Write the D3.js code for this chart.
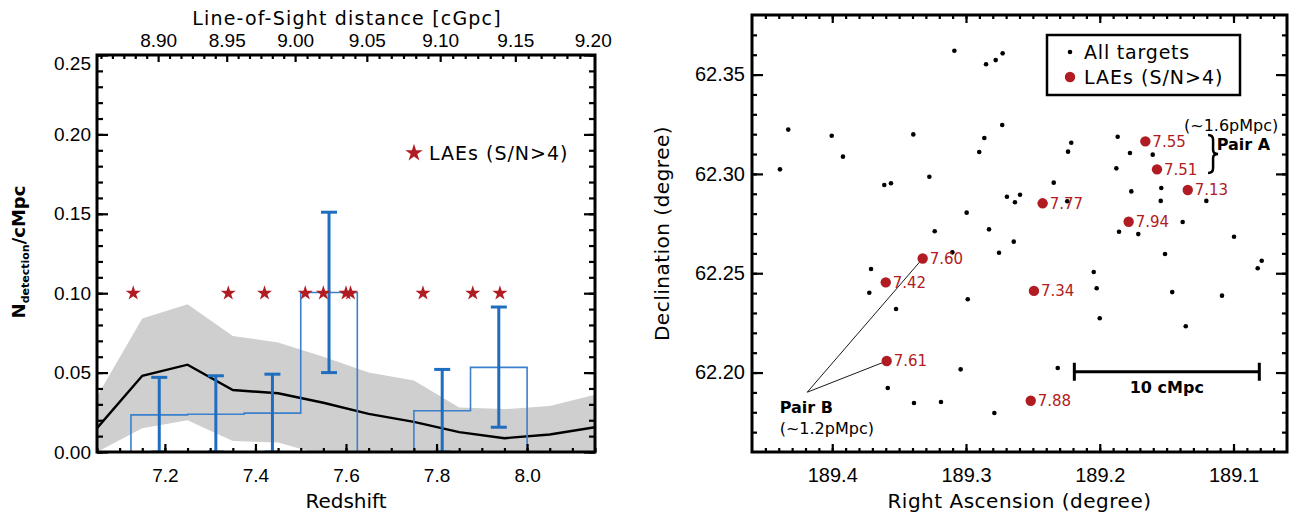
<!DOCTYPE html>
<html>
<head>
<meta charset="utf-8">
<script src="https://cdn.jsdelivr.net/npm/d3@7"></script>
<style>
  body { margin: 0; background: #fff; }
  svg { display: block; font-family: "DejaVu Sans", sans-serif; }
</style>
</head>
<body>
<div id="chart"></div>
<script>
// ---- left panel : number density vs redshift ----
const zGrid     = [7.05, 7.15, 7.25, 7.35, 7.45, 7.55, 7.65, 7.75, 7.85, 7.95, 8.05, 8.15];
const simUpper  = [0.035, 0.084, 0.093, 0.073, 0.069, 0.060, 0.050, 0.045, 0.028, 0.027, 0.029, 0.036];
const simMedian = [0.015, 0.048, 0.055, 0.039, 0.037, 0.031, 0.024, 0.019, 0.0125, 0.0087, 0.011, 0.0156];
const simLower  = [0.000, 0.015, 0.020, 0.007, 0.006, -0.002, 0, 0, 0, 0, 0, 0];

const binEdges   = [7.125, 7.25, 7.375, 7.5, 7.625, 7.75, 7.875, 8.0];
const binDensity = [0.0234, 0.0238, 0.0245, 0.1004, 0.0, 0.0260, 0.0533];
const errLo      = [0, 0, 0, 0.050, null, 0, 0.0156];
const errHi      = [0.047, 0.048, 0.049, 0.151, null, 0.052, 0.0913];
const laeStarLevel = 0.10;

const losTickLabels = ["8.90", "8.95", "9.00", "9.05", "9.10", "9.15", "9.20"];
const losTickZ      = [7.185, 7.3365, 7.4876, 7.646, 7.808, 7.974, 8.145];

// ---- right panel : sky positions ----
const targetRA  = [189.3087, 189.4329, 189.4004, 189.3920, 189.4391, 189.3394, 189.3274, 189.3611, 189.3561, 189.2995,
                   189.3234, 189.3102, 189.2850, 189.2778, 189.2726, 189.2729, 189.2863, 189.2901, 189.2213, 189.2237,
                   189.2344, 189.2694, 189.2596, 189.2634, 189.2243, 189.2828, 189.2643, 189.2753, 189.1866, 189.1774,
                   189.1604, 189.1876, 189.1764, 189.1540, 189.1544, 189.1203, 189.1856, 189.1712, 189.1380, 189.0996,
                   189.1512, 189.0789, 189.0819, 189.3710, 189.3723, 189.3523, 189.2987, 189.3040, 189.3585, 189.3389,
                   189.3187, 189.2045, 189.2023, 189.1458, 189.1086, 189.2000, 189.1357, 189.2314, 189.2788];
const targetDec = [62.3620, 62.3223, 62.3192, 62.3087, 62.3023, 62.3199, 62.2986, 62.2944, 62.2953, 62.2805,
                   62.2711, 62.2605, 62.3552, 62.3573, 62.3607, 62.3246, 62.3181, 62.3110, 62.3157, 62.3112,
                   62.2956, 62.2885, 62.2895, 62.2857, 62.2862, 62.2721, 62.2659, 62.2603, 62.3187, 62.3105,
                   62.3097, 62.3028, 62.2912, 62.2929, 62.2864, 62.2864, 62.2709, 62.2697, 62.2758, 62.2684,
                   62.2597, 62.2563, 62.2525, 62.2521, 62.2402, 62.2320, 62.2369, 62.2016, 62.1922, 62.1847,
                   62.1852, 62.2506, 62.2424, 62.2405, 62.2387, 62.2273, 62.2233, 62.2023, 62.1796];

const laeZ   = [7.13, 7.34, 7.42, 7.51, 7.55, 7.60, 7.61, 7.77, 7.88, 7.94];
const laeRA  = [189.1342, 189.2492, 189.3600, 189.1572, 189.1659, 189.3324, 189.3593, 189.2427, 189.2516, 189.1784];
const laeDec = [62.2919, 62.2411, 62.2454, 62.3023, 62.3164, 62.2574, 62.2058, 62.2852, 62.1858, 62.2759];

const red = "#b01c22";
const svg = d3.select("#chart").append("svg").attr("width", 1299).attr("height", 516);

// tick helper: inward ticks, no domain line
function drawAxis(gen, tx, ty, size, fmt, pad, fs) {
    const g = svg.append("g")
        .attr("transform", `translate(${tx}, ${ty})`)
        .call(gen.tickSize(-size).tickPadding(pad || 6).tickFormat(fmt));
    g.select(".domain").remove();
    g.selectAll(".tick line").attr("stroke", "#000").attr("stroke-width", 2.2);
    g.selectAll(".tick text").attr("fill", "#000").style("font-size", (fs || 19) + "px");
    return g;
}
const noLabel = () => "";
const rng = (a, b, s) => d3.range(Math.round(a / s), Math.round(b / s) + 1).map(k => +(k * s).toFixed(4));

/************ LEFT PANEL ************/
const L = { left: 97, right: 595, top: 55, bottom: 452 };
const xL = d3.scaleLinear().domain([7.05, 8.15]).range([L.left, L.right]);
const yL = d3.scaleLinear().domain([0, 0.25]).range([L.bottom, L.top]);

svg.append("defs").append("clipPath").attr("id", "clipL")
    .append("rect").attr("x", L.left).attr("y", L.top)
    .attr("width", L.right - L.left).attr("height", L.bottom - L.top);

const gL = svg.append("g").attr("clip-path", "url(#clipL)");

// gray band
gL.append("path")
    .datum(zGrid.map((z, i) => ({ z: z, lo: simLower[i], hi: simUpper[i] })))
    .attr("fill", "#cfcfcf")
    .attr("d", d3.area().x(d => xL(d.z)).y0(d => yL(d.lo)).y1(d => yL(d.hi)));

// median line
gL.append("path")
    .datum(zGrid.map((z, i) => ({ z: z, v: simMedian[i] })))
    .attr("fill", "none").attr("stroke", "#000").attr("stroke-width", 2.4)
    .attr("d", d3.line().x(d => xL(d.z)).y(d => yL(d.v)));

// histogram steps
const steps = [[binEdges[0], 0]];
binDensity.forEach((v, i) => { steps.push([binEdges[i], v]); steps.push([binEdges[i + 1], v]); });
steps.push([binEdges[binEdges.length - 1], 0]);
gL.append("path")
    .datum(steps)
    .attr("fill", "none").attr("stroke", "#3a80cc").attr("stroke-width", 1.6)
    .attr("d", d3.line().x(d => xL(d[0])).y(d => yL(d[1])));

// error bars
const errData = binDensity.map((v, i) => ({ z: (binEdges[i] + binEdges[i + 1]) / 2, lo: errLo[i], hi: errHi[i] }))
    .filter(d => d.lo !== null);
const eb = gL.selectAll("g.err").data(errData).join("g").attr("class", "err")
    .attr("stroke", "#1f6dbf").attr("stroke-width", 3);
eb.append("line").attr("x1", d => xL(d.z)).attr("x2", d => xL(d.z))
    .attr("y1", d => yL(d.lo)).attr("y2", d => yL(d.hi));
eb.append("line").attr("x1", d => xL(d.z) - 8).attr("x2", d => xL(d.z) + 8)
    .attr("y1", d => yL(d.hi)).attr("y2", d => yL(d.hi));
eb.append("line").attr("x1", d => xL(d.z) - 8).attr("x2", d => xL(d.z) + 8)
    .attr("y1", d => yL(d.lo)).attr("y2", d => yL(d.lo));

// LAE stars
const star = d3.symbol().type(d3.symbolStar);
gL.selectAll("path.star").data(laeZ).join("path").attr("class", "star")
    .attr("transform", d => `translate(${xL(d)}, ${yL(laeStarLevel)})`)
    .attr("d", star.size(70)()).attr("fill", red);

// legend
svg.append("path").attr("transform", "translate(414, 153)").attr("d", star.size(95)()).attr("fill", red);
svg.append("text").attr("x", 429).attr("y", 153).attr("dy", "0.35em")
    .style("font-size", "19px").style("letter-spacing", "1px").text("LAEs (S/N>4)");

// axes
drawAxis(d3.axisBottom(xL).tickValues([7.2, 7.4, 7.6, 7.8, 8.0]), 0, L.bottom, 8, d3.format(".1f"), 17);
drawAxis(d3.axisBottom(xL).tickValues(rng(7.05, 8.15, 0.05)), 0, L.bottom, 4, noLabel);
const yTicks = drawAxis(d3.axisLeft(yL).tickValues([0, 0.05, 0.10, 0.15, 0.20, 0.25]), L.left, 0, 11, d3.format(".2f"), 6);
yTicks.selectAll(".tick").filter(d => d === 0.25).select("text").attr("y", 8);
drawAxis(d3.axisLeft(yL).tickValues(rng(0, 0.25, 0.01)), L.left, 0, 6, noLabel);
drawAxis(d3.axisRight(yL).tickValues([0, 0.05, 0.10, 0.15, 0.20, 0.25]), L.right, 0, 11, noLabel);
drawAxis(d3.axisRight(yL).tickValues(rng(0, 0.25, 0.01)), L.right, 0, 6, noLabel);

// top line-of-sight axis: six minor steps per labelled interval
const losMinor = [];
for (let i = 0; i < losTickZ.length - 1; i++) {
    const step = (losTickZ[i + 1] - losTickZ[i]) / 6;
    for (let k = 1; k < 6; k++) losMinor.push(losTickZ[i] + k * step);
    if (i === 0) for (let z = losTickZ[0] - step; z > 7.05; z -= step) losMinor.push(z);
}
drawAxis(d3.axisTop(xL).tickValues(losTickZ.slice(0, -1)), 0, L.top, 7, noLabel);
drawAxis(d3.axisTop(xL).tickValues(losMinor), 0, L.top, 4, noLabel);
drawAxis(d3.axisTop(xL).tickValues(losTickZ).tickSize(0), 0, L.top, 0, (d, i) => losTickLabels[i], 8)
    .selectAll(".tick line").remove();

svg.append("rect").attr("x", L.left).attr("y", L.top)
    .attr("width", L.right - L.left).attr("height", L.bottom - L.top)
    .attr("fill", "none").attr("stroke", "#000").attr("stroke-width", 3);

svg.append("text").attr("x", (L.left + L.right) / 2).attr("y", 508).attr("text-anchor", "middle")
    .style("font-size", "20px").text("Redshift");
svg.append("text").attr("x", 347).attr("y", 25).attr("text-anchor", "middle")
    .style("font-size", "19px").style("letter-spacing", "1.2px").text("Line-of-Sight distance [cGpc]");

const yLab = svg.append("text").attr("transform", "translate(25, 252) rotate(-90)")
    .attr("text-anchor", "middle").style("font-weight", "bold").style("font-size", "18px");
yLab.append("tspan").text("N");
yLab.append("tspan").attr("dy", 4).style("font-size", "11px").text("detection");
yLab.append("tspan").attr("dy", -4).text("/cMpc");

/************ RIGHT PANEL ************/
const R = { left: 752, right: 1287, top: 15, bottom: 452 };
const xR = d3.scaleLinear().domain([189.46, 189.06]).range([R.left, R.right]);
const yR = d3.scaleLinear().domain([62.16, 62.38]).range([R.bottom, R.top]);

// Pair B connector lines (under the dots)
const pairBAnchor = [189.4187, 62.1901];
[5, 6].forEach(i => {
    svg.append("line")
        .attr("x1", xR(pairBAnchor[0])).attr("y1", yR(pairBAnchor[1]))
        .attr("x2", xR(laeRA[i])).attr("y2", yR(laeDec[i]))
        .attr("stroke", "#000").attr("stroke-width", 0.9);
});

// all targets
svg.append("g").selectAll("circle").data(targetRA).join("circle")
    .attr("cx", d => xR(d)).attr("cy", (d, i) => yR(targetDec[i]))
    .attr("r", 2.3).attr("fill", "#000");

// LAEs
svg.append("g").selectAll("circle").data(laeZ).join("circle")
    .attr("cx", (d, i) => xR(laeRA[i])).attr("cy", (d, i) => yR(laeDec[i]))
    .attr("r", 5.2).attr("fill", red);
svg.append("g").selectAll("text").data(laeZ).join("text")
    .attr("x", (d, i) => xR(laeRA[i]) + 7).attr("y", (d, i) => yR(laeDec[i]))
    .attr("dy", "0.36em").attr("fill", red).style("font-size", "15px")
    .text(d => d3.format(".2f")(d));

// Pair B labels
svg.append("text").attr("x", xR(189.4393)).attr("y", yR(62.1827)).attr("dy", "0.35em")
    .style("font-size", "16px").style("font-weight", "bold").text("Pair B");
svg.append("text").attr("x", xR(189.4393)).attr("y", yR(62.1721)).attr("dy", "0.35em")
    .style("font-size", "16px").text("(~1.2pMpc)");

// Pair A brace and labels
const bx = xR(189.119), by1 = yR(62.3196), by2 = yR(62.3004), bm = (by1 + by2) / 2;
svg.append("path")
    .attr("d", `M${bx},${by1} Q${bx + 5},${by1} ${bx + 5},${by1 + 5} L${bx + 5},${bm - 4} Q${bx + 5},${bm} ${bx + 10},${bm}` +
               ` Q${bx + 5},${bm} ${bx + 5},${bm + 4} L${bx + 5},${by2 - 5} Q${bx + 5},${by2} ${bx},${by2}`)
    .attr("fill", "none").attr("stroke", "#000").attr("stroke-width", 2.5);
svg.append("text").attr("x", xR(189.1126)).attr("y", yR(62.315)).attr("dy", "0.35em")
    .style("font-size", "16px").style("font-weight", "bold").text("Pair A");
svg.append("text").attr("x", xR(189.137)).attr("y", yR(62.3246)).attr("dy", "0.35em")
    .style("font-size", "16px").text("(~1.6pMpc)");

// 10 cMpc scale bar
const sb = [189.219, 189.0807], sbDec = 62.2004;
svg.append("line").attr("x1", xR(sb[0])).attr("x2", xR(sb[1])).attr("y1", yR(sbDec)).attr("y2", yR(sbDec))
    .attr("stroke", "#000").attr("stroke-width", 3);
sb.forEach(ra => svg.append("line").attr("x1", xR(ra)).attr("x2", xR(ra))
    .attr("y1", yR(sbDec) - 9).attr("y2", yR(sbDec) + 9).attr("stroke", "#000").attr("stroke-width", 3));
svg.append("text").attr("x", (xR(sb[0]) + xR(sb[1])) / 2).attr("y", yR(62.1927)).attr("dy", "0.35em")
    .attr("text-anchor", "middle").style("font-size", "16px").style("font-weight", "bold").text("10 cMpc");

// legend box
svg.append("rect").attr("x", 1047).attr("y", 35).attr("width", 193).attr("height", 60)
    .attr("fill", "#fff").attr("stroke", "#000").attr("stroke-width", 2.5);
svg.append("circle").attr("cx", 1070).attr("cy", 52).attr("r", 2.3).attr("fill", "#000");
svg.append("circle").attr("cx", 1070).attr("cy", 77).attr("r", 5.2).attr("fill", red);
svg.append("text").attr("x", 1084).attr("y", 52).attr("dy", "0.35em")
    .style("font-size", "19px").style("letter-spacing", "0.8px").text("All targets");
svg.append("text").attr("x", 1084).attr("y", 77).attr("dy", "0.35em")
    .style("font-size", "19px").style("letter-spacing", "1px").text("LAEs (S/N>4)");

// axes
drawAxis(d3.axisBottom(xR).tickValues([189.4, 189.3, 189.2, 189.1]), 0, R.bottom, 8, d3.format(".1f"), 16, 20);
drawAxis(d3.axisBottom(xR).tickValues(rng(189.07, 189.45, 0.01)), 0, R.bottom, 4, noLabel);
drawAxis(d3.axisTop(xR).tickValues([189.4, 189.3, 189.2, 189.1]), 0, R.top, 8, noLabel);
drawAxis(d3.axisTop(xR).tickValues(rng(189.07, 189.45, 0.01)), 0, R.top, 4, noLabel);
drawAxis(d3.axisLeft(yR).tickValues([62.20, 62.25, 62.30, 62.35]), R.left, 0, 11, d3.format(".2f"), 7, 20);
drawAxis(d3.axisLeft(yR).tickValues(rng(62.17, 62.37, 0.01)), R.left, 0, 5, noLabel);
drawAxis(d3.axisRight(yR).tickValues([62.20, 62.25, 62.30, 62.35]), R.right, 0, 11, noLabel);
drawAxis(d3.axisRight(yR).tickValues(rng(62.17, 62.37, 0.01)), R.right, 0, 5, noLabel);

svg.append("rect").attr("x", R.left).attr("y", R.top)
    .attr("width", R.right - R.left).attr("height", R.bottom - R.top)
    .attr("fill", "none").attr("stroke", "#000").attr("stroke-width", 3);

svg.append("text").attr("x", (R.left + R.right) / 2).attr("y", 508).attr("text-anchor", "middle")
    .style("font-size", "20px").style("letter-spacing", "0.5px").text("Right Ascension (degree)");
svg.append("text").attr("transform", `translate(669, ${(R.top + R.bottom) / 2}) rotate(-90)`)
    .attr("text-anchor", "middle").style("font-size", "20px").style("letter-spacing", "0.5px")
    .text("Declination (degree)");
</script>
</body>
</html>
